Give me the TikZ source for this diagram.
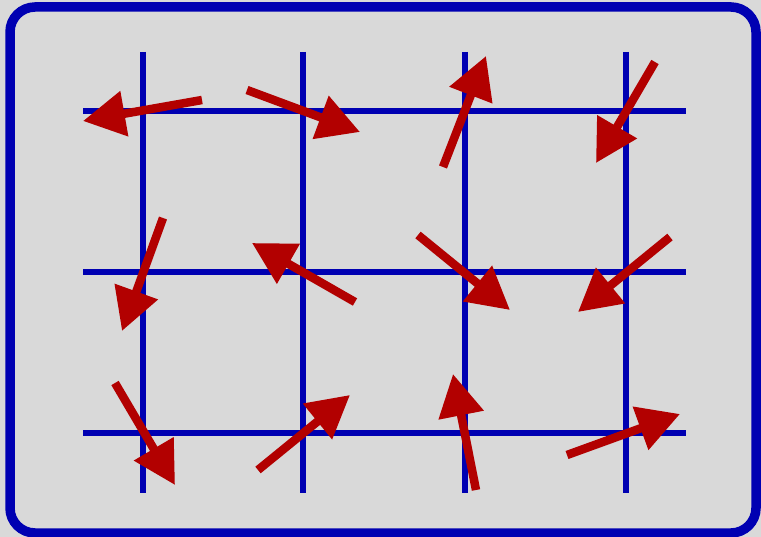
\documentclass[tikz,border=0pt]{standalone}
\usetikzlibrary{arrows.meta}
\definecolor{frameblue}{RGB}{0,0,178}
\definecolor{vecred}{RGB}{178,0,0}
\definecolor{bggray}{RGB}{217,217,217}
\begin{document}
\begin{tikzpicture}[x=1pt,y=-1pt,
  gridline/.style={draw=frameblue,line width=5.5pt},
  vec/.style={draw=vecred,line width=8.5pt,-{Triangle[length=42pt,width=44pt]}},
  framebox/.style={draw=frameblue,fill=bggray,line width=9.5pt,rounded corners=25pt}]
\useasboundingbox (0,0) rectangle (761,537);
\fill[bggray] (0,0) rectangle (761,537);
\draw[framebox] (10,7) rectangle (756,533);
% grid
\foreach \x in {143,303,465,626} \draw[gridline] (\x,52) -- (\x,493);
\foreach \y in {111,272,433} \draw[gridline] (83,\y) -- (686,\y);
% vectors
\draw[vec] (202,100) -- (83,121);
\draw[vec] (247,90) -- (360,132);
\draw[vec] (443,167) -- (486,56);
\draw[vec] (655,62) -- (596,163);
\draw[vec] (163,218) -- (122,331);
\draw[vec] (355,302) -- (252,243);
\draw[vec] (418,235) -- (510,310);
\draw[vec] (670,237) -- (578,312);
\draw[vec] (115,383) -- (175,485);
\draw[vec] (258,470) -- (350,395);
\draw[vec] (476,490) -- (453,374);
\draw[vec] (567,455) -- (680,414);
\end{tikzpicture}
\end{document}
